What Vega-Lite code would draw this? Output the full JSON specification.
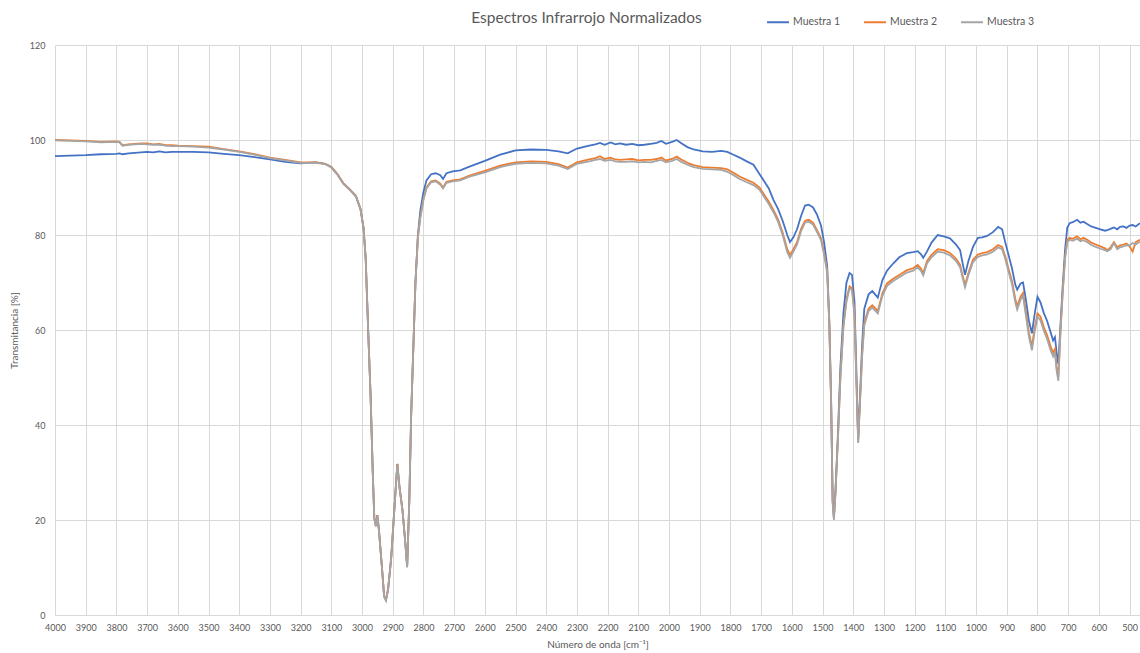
{
  "$schema": "https://vega.github.io/schema/vega-lite/v6.json",
  "width": 1085,
  "height": 570,
  "autosize": {"type": "none"},
  "padding": {"left": 55, "top": 45, "right": 0, "bottom": 38},
  "background": "white",
  "config": {
    "font": "Lato",
    "view": {"stroke": null},
    "axis": {
      "gridColor": "#d9d9d9",
      "gridWidth": 1,
      "domain": false,
      "ticks": false,
      "labelColor": "#595959",
      "titleColor": "#595959",
      "labelFont": "Lato",
      "titleFont": "Lato",
      "labelFontSize": 9,
      "titleFontSize": 10,
      "titleFontWeight": "normal"
    }
  },
  "title": {
    "text": "Espectros Infrarrojo Normalizados",
    "font": "Lato",
    "fontSize": 15.5,
    "fontWeight": "normal",
    "color": "#595959",
    "anchor": "middle",
    "frame": "group",
    "dx": -11,
    "offset": -16
  },
  "data": {
    "values": [
      {"wn": 4000, "Muestra 1": 96.6, "Muestra 2": 100.0, "Muestra 3": 99.9},
      {"wn": 3950, "Muestra 1": 96.7, "Muestra 2": 99.9, "Muestra 3": 99.8},
      {"wn": 3900, "Muestra 1": 96.8, "Muestra 2": 99.8, "Muestra 3": 99.7},
      {"wn": 3850, "Muestra 1": 97.0, "Muestra 2": 99.6, "Muestra 3": 99.5},
      {"wn": 3800, "Muestra 1": 97.1, "Muestra 2": 99.7, "Muestra 3": 99.6},
      {"wn": 3790, "Muestra 1": 97.2, "Muestra 2": 99.6, "Muestra 3": 99.5},
      {"wn": 3780, "Muestra 1": 97.0, "Muestra 2": 98.9, "Muestra 3": 98.8},
      {"wn": 3760, "Muestra 1": 97.2, "Muestra 2": 99.1, "Muestra 3": 99.0},
      {"wn": 3740, "Muestra 1": 97.3, "Muestra 2": 99.2, "Muestra 3": 99.1},
      {"wn": 3720, "Muestra 1": 97.4, "Muestra 2": 99.3, "Muestra 3": 99.2},
      {"wn": 3700, "Muestra 1": 97.5, "Muestra 2": 99.3, "Muestra 3": 99.1},
      {"wn": 3680, "Muestra 1": 97.4, "Muestra 2": 99.1, "Muestra 3": 99.0},
      {"wn": 3660, "Muestra 1": 97.6, "Muestra 2": 99.2, "Muestra 3": 99.0},
      {"wn": 3640, "Muestra 1": 97.4, "Muestra 2": 98.9, "Muestra 3": 98.8},
      {"wn": 3620, "Muestra 1": 97.5, "Muestra 2": 98.9, "Muestra 3": 98.7},
      {"wn": 3600, "Muestra 1": 97.5, "Muestra 2": 98.8, "Muestra 3": 98.7},
      {"wn": 3550, "Muestra 1": 97.5, "Muestra 2": 98.7, "Muestra 3": 98.6},
      {"wn": 3500, "Muestra 1": 97.4, "Muestra 2": 98.6, "Muestra 3": 98.4},
      {"wn": 3450, "Muestra 1": 97.1, "Muestra 2": 98.1, "Muestra 3": 98.0},
      {"wn": 3400, "Muestra 1": 96.8, "Muestra 2": 97.6, "Muestra 3": 97.5},
      {"wn": 3350, "Muestra 1": 96.4, "Muestra 2": 97.0, "Muestra 3": 96.9},
      {"wn": 3300, "Muestra 1": 95.9, "Muestra 2": 96.3, "Muestra 3": 96.2},
      {"wn": 3250, "Muestra 1": 95.4, "Muestra 2": 95.8, "Muestra 3": 95.7},
      {"wn": 3200, "Muestra 1": 95.1, "Muestra 2": 95.3, "Muestra 3": 95.2},
      {"wn": 3180, "Muestra 1": 95.2, "Muestra 2": 95.3, "Muestra 3": 95.2},
      {"wn": 3150, "Muestra 1": 95.3, "Muestra 2": 95.3, "Muestra 3": 95.2},
      {"wn": 3120, "Muestra 1": 95.0, "Muestra 2": 95.0, "Muestra 3": 94.9},
      {"wn": 3100, "Muestra 1": 94.3, "Muestra 2": 94.3, "Muestra 3": 94.2},
      {"wn": 3080, "Muestra 1": 92.8, "Muestra 2": 92.8, "Muestra 3": 92.7},
      {"wn": 3060, "Muestra 1": 90.8, "Muestra 2": 90.8, "Muestra 3": 90.7},
      {"wn": 3040, "Muestra 1": 89.6, "Muestra 2": 89.6, "Muestra 3": 89.5},
      {"wn": 3020, "Muestra 1": 88.2, "Muestra 2": 88.2, "Muestra 3": 88.1},
      {"wn": 3005, "Muestra 1": 85.5, "Muestra 2": 85.5, "Muestra 3": 85.4},
      {"wn": 2995, "Muestra 1": 81.5, "Muestra 2": 81.5, "Muestra 3": 81.4},
      {"wn": 2988, "Muestra 1": 75.0, "Muestra 2": 75.0, "Muestra 3": 74.9},
      {"wn": 2980, "Muestra 1": 60.0, "Muestra 2": 60.0, "Muestra 3": 60.0},
      {"wn": 2972, "Muestra 1": 46.0, "Muestra 2": 46.0, "Muestra 3": 46.0},
      {"wn": 2965, "Muestra 1": 30.0, "Muestra 2": 30.0, "Muestra 3": 30.0},
      {"wn": 2960, "Muestra 1": 20.5, "Muestra 2": 20.5, "Muestra 3": 20.3},
      {"wn": 2955, "Muestra 1": 18.8, "Muestra 2": 18.8, "Muestra 3": 18.6},
      {"wn": 2950, "Muestra 1": 21.0, "Muestra 2": 21.0, "Muestra 3": 20.8},
      {"wn": 2945, "Muestra 1": 18.0, "Muestra 2": 18.0, "Muestra 3": 17.8},
      {"wn": 2935, "Muestra 1": 10.0, "Muestra 2": 10.0, "Muestra 3": 9.8},
      {"wn": 2928, "Muestra 1": 4.0, "Muestra 2": 4.0, "Muestra 3": 3.8},
      {"wn": 2922, "Muestra 1": 3.2, "Muestra 2": 3.2, "Muestra 3": 3.0},
      {"wn": 2915, "Muestra 1": 5.5, "Muestra 2": 5.5, "Muestra 3": 5.3},
      {"wn": 2905, "Muestra 1": 12.0, "Muestra 2": 12.0, "Muestra 3": 11.8},
      {"wn": 2895, "Muestra 1": 22.0, "Muestra 2": 22.0, "Muestra 3": 21.8},
      {"wn": 2885, "Muestra 1": 31.8, "Muestra 2": 31.8, "Muestra 3": 31.6},
      {"wn": 2878, "Muestra 1": 27.0, "Muestra 2": 27.0, "Muestra 3": 26.8},
      {"wn": 2868, "Muestra 1": 22.0, "Muestra 2": 22.0, "Muestra 3": 21.8},
      {"wn": 2860, "Muestra 1": 16.0, "Muestra 2": 16.0, "Muestra 3": 15.8},
      {"wn": 2853, "Muestra 1": 10.2, "Muestra 2": 10.2, "Muestra 3": 10.0},
      {"wn": 2846, "Muestra 1": 24.0, "Muestra 2": 24.0, "Muestra 3": 23.8},
      {"wn": 2840, "Muestra 1": 42.0, "Muestra 2": 42.0, "Muestra 3": 41.8},
      {"wn": 2833, "Muestra 1": 56.0, "Muestra 2": 56.0, "Muestra 3": 55.8},
      {"wn": 2826, "Muestra 1": 70.0, "Muestra 2": 70.0, "Muestra 3": 69.8},
      {"wn": 2818, "Muestra 1": 80.0, "Muestra 2": 79.6, "Muestra 3": 79.4},
      {"wn": 2810, "Muestra 1": 85.2, "Muestra 2": 83.8, "Muestra 3": 83.6},
      {"wn": 2800, "Muestra 1": 89.0, "Muestra 2": 87.6, "Muestra 3": 87.4},
      {"wn": 2790, "Muestra 1": 91.5, "Muestra 2": 90.0, "Muestra 3": 89.8},
      {"wn": 2775, "Muestra 1": 92.8, "Muestra 2": 91.3, "Muestra 3": 91.1},
      {"wn": 2760, "Muestra 1": 93.0, "Muestra 2": 91.5, "Muestra 3": 91.3},
      {"wn": 2745, "Muestra 1": 92.6, "Muestra 2": 90.8, "Muestra 3": 90.6},
      {"wn": 2736, "Muestra 1": 91.8, "Muestra 2": 90.0, "Muestra 3": 89.8},
      {"wn": 2725, "Muestra 1": 93.0, "Muestra 2": 91.2, "Muestra 3": 91.0},
      {"wn": 2705, "Muestra 1": 93.4, "Muestra 2": 91.5, "Muestra 3": 91.3},
      {"wn": 2680, "Muestra 1": 93.6, "Muestra 2": 91.7, "Muestra 3": 91.5},
      {"wn": 2650, "Muestra 1": 94.4, "Muestra 2": 92.5, "Muestra 3": 92.3},
      {"wn": 2600, "Muestra 1": 95.6, "Muestra 2": 93.5, "Muestra 3": 93.2},
      {"wn": 2550, "Muestra 1": 96.9, "Muestra 2": 94.6, "Muestra 3": 94.3},
      {"wn": 2500, "Muestra 1": 97.8, "Muestra 2": 95.3, "Muestra 3": 95.0},
      {"wn": 2450, "Muestra 1": 98.0, "Muestra 2": 95.5, "Muestra 3": 95.2},
      {"wn": 2400, "Muestra 1": 97.9, "Muestra 2": 95.4, "Muestra 3": 95.1},
      {"wn": 2360, "Muestra 1": 97.6, "Muestra 2": 94.9, "Muestra 3": 94.6},
      {"wn": 2330, "Muestra 1": 97.2, "Muestra 2": 94.2, "Muestra 3": 93.9},
      {"wn": 2300, "Muestra 1": 98.2, "Muestra 2": 95.3, "Muestra 3": 95.0},
      {"wn": 2260, "Muestra 1": 98.8, "Muestra 2": 95.9, "Muestra 3": 95.5},
      {"wn": 2240, "Muestra 1": 99.1, "Muestra 2": 96.2, "Muestra 3": 95.8},
      {"wn": 2225, "Muestra 1": 99.4, "Muestra 2": 96.6, "Muestra 3": 96.0},
      {"wn": 2210, "Muestra 1": 99.0, "Muestra 2": 96.0, "Muestra 3": 95.6},
      {"wn": 2190, "Muestra 1": 99.5, "Muestra 2": 96.3, "Muestra 3": 95.8},
      {"wn": 2175, "Muestra 1": 99.1, "Muestra 2": 95.9, "Muestra 3": 95.5},
      {"wn": 2160, "Muestra 1": 99.3, "Muestra 2": 95.8, "Muestra 3": 95.4},
      {"wn": 2140, "Muestra 1": 99.0, "Muestra 2": 95.9, "Muestra 3": 95.4},
      {"wn": 2120, "Muestra 1": 99.2, "Muestra 2": 96.0, "Muestra 3": 95.5},
      {"wn": 2100, "Muestra 1": 98.9, "Muestra 2": 95.7, "Muestra 3": 95.3},
      {"wn": 2080, "Muestra 1": 99.0, "Muestra 2": 95.8, "Muestra 3": 95.4},
      {"wn": 2060, "Muestra 1": 99.2, "Muestra 2": 95.8, "Muestra 3": 95.3},
      {"wn": 2040, "Muestra 1": 99.4, "Muestra 2": 96.0, "Muestra 3": 95.6},
      {"wn": 2025, "Muestra 1": 99.8, "Muestra 2": 96.3, "Muestra 3": 95.8},
      {"wn": 2010, "Muestra 1": 99.2, "Muestra 2": 95.7, "Muestra 3": 95.3},
      {"wn": 1990, "Muestra 1": 99.6, "Muestra 2": 96.0, "Muestra 3": 95.6},
      {"wn": 1975, "Muestra 1": 100.0, "Muestra 2": 96.5, "Muestra 3": 96.0},
      {"wn": 1960, "Muestra 1": 99.3, "Muestra 2": 95.9, "Muestra 3": 95.4},
      {"wn": 1940, "Muestra 1": 98.5, "Muestra 2": 95.2, "Muestra 3": 94.8},
      {"wn": 1920, "Muestra 1": 98.0, "Muestra 2": 94.7, "Muestra 3": 94.3},
      {"wn": 1890, "Muestra 1": 97.6, "Muestra 2": 94.3, "Muestra 3": 93.9},
      {"wn": 1860, "Muestra 1": 97.5, "Muestra 2": 94.2, "Muestra 3": 93.8},
      {"wn": 1830, "Muestra 1": 97.7, "Muestra 2": 94.1, "Muestra 3": 93.7},
      {"wn": 1810, "Muestra 1": 97.5, "Muestra 2": 93.8, "Muestra 3": 93.3},
      {"wn": 1790, "Muestra 1": 96.9, "Muestra 2": 93.1, "Muestra 3": 92.6},
      {"wn": 1770, "Muestra 1": 96.3, "Muestra 2": 92.3, "Muestra 3": 91.8},
      {"wn": 1750, "Muestra 1": 95.6, "Muestra 2": 91.7, "Muestra 3": 91.2},
      {"wn": 1725, "Muestra 1": 94.8, "Muestra 2": 91.0, "Muestra 3": 90.5},
      {"wn": 1705, "Muestra 1": 92.8, "Muestra 2": 90.0, "Muestra 3": 89.5},
      {"wn": 1690, "Muestra 1": 91.3, "Muestra 2": 88.5, "Muestra 3": 88.0},
      {"wn": 1675, "Muestra 1": 89.8, "Muestra 2": 87.0, "Muestra 3": 86.5},
      {"wn": 1660, "Muestra 1": 87.4, "Muestra 2": 85.3, "Muestra 3": 84.8},
      {"wn": 1645, "Muestra 1": 85.5, "Muestra 2": 83.3, "Muestra 3": 82.8},
      {"wn": 1630, "Muestra 1": 83.0, "Muestra 2": 80.5, "Muestra 3": 80.0},
      {"wn": 1615, "Muestra 1": 80.0, "Muestra 2": 77.0, "Muestra 3": 76.4},
      {"wn": 1606, "Muestra 1": 78.5, "Muestra 2": 75.8, "Muestra 3": 75.2},
      {"wn": 1595, "Muestra 1": 79.5, "Muestra 2": 77.0, "Muestra 3": 76.5},
      {"wn": 1583, "Muestra 1": 81.2, "Muestra 2": 78.5, "Muestra 3": 78.0},
      {"wn": 1570, "Muestra 1": 84.0, "Muestra 2": 81.3, "Muestra 3": 80.8},
      {"wn": 1557, "Muestra 1": 86.2, "Muestra 2": 83.0, "Muestra 3": 82.6},
      {"wn": 1545, "Muestra 1": 86.4, "Muestra 2": 83.2, "Muestra 3": 82.8},
      {"wn": 1531, "Muestra 1": 85.8, "Muestra 2": 82.6, "Muestra 3": 82.2},
      {"wn": 1518, "Muestra 1": 84.3, "Muestra 2": 81.0, "Muestra 3": 80.6},
      {"wn": 1505, "Muestra 1": 82.0, "Muestra 2": 79.3, "Muestra 3": 78.9},
      {"wn": 1495, "Muestra 1": 78.5, "Muestra 2": 76.3, "Muestra 3": 75.9},
      {"wn": 1485, "Muestra 1": 73.5, "Muestra 2": 72.5, "Muestra 3": 72.1},
      {"wn": 1478, "Muestra 1": 62.0, "Muestra 2": 61.5, "Muestra 3": 61.2},
      {"wn": 1472, "Muestra 1": 45.0, "Muestra 2": 44.5, "Muestra 3": 44.2},
      {"wn": 1467, "Muestra 1": 24.0, "Muestra 2": 23.8, "Muestra 3": 23.5},
      {"wn": 1463, "Muestra 1": 20.6, "Muestra 2": 20.4, "Muestra 3": 20.0},
      {"wn": 1458, "Muestra 1": 26.0, "Muestra 2": 25.8, "Muestra 3": 25.5},
      {"wn": 1450, "Muestra 1": 38.0, "Muestra 2": 37.0, "Muestra 3": 36.8},
      {"wn": 1442, "Muestra 1": 52.0, "Muestra 2": 50.0, "Muestra 3": 49.6},
      {"wn": 1432, "Muestra 1": 63.5, "Muestra 2": 61.0, "Muestra 3": 60.6},
      {"wn": 1422, "Muestra 1": 70.0, "Muestra 2": 66.5, "Muestra 3": 66.0},
      {"wn": 1412, "Muestra 1": 72.0, "Muestra 2": 69.2, "Muestra 3": 68.8},
      {"wn": 1404, "Muestra 1": 71.6, "Muestra 2": 68.8, "Muestra 3": 68.4},
      {"wn": 1396, "Muestra 1": 66.0, "Muestra 2": 63.5, "Muestra 3": 63.0},
      {"wn": 1390, "Muestra 1": 52.0, "Muestra 2": 50.0, "Muestra 3": 49.6},
      {"wn": 1384, "Muestra 1": 37.0, "Muestra 2": 36.5, "Muestra 3": 36.2},
      {"wn": 1378, "Muestra 1": 46.0, "Muestra 2": 45.0, "Muestra 3": 44.7},
      {"wn": 1371, "Muestra 1": 57.0, "Muestra 2": 55.0, "Muestra 3": 54.6},
      {"wn": 1364, "Muestra 1": 64.5, "Muestra 2": 61.5, "Muestra 3": 61.0},
      {"wn": 1350, "Muestra 1": 67.5, "Muestra 2": 64.5, "Muestra 3": 64.0},
      {"wn": 1338, "Muestra 1": 68.2, "Muestra 2": 65.2, "Muestra 3": 64.7},
      {"wn": 1320, "Muestra 1": 66.8, "Muestra 2": 64.0, "Muestra 3": 63.5},
      {"wn": 1305, "Muestra 1": 70.5, "Muestra 2": 67.7, "Muestra 3": 67.2},
      {"wn": 1290, "Muestra 1": 72.5, "Muestra 2": 69.8, "Muestra 3": 69.3},
      {"wn": 1270, "Muestra 1": 74.0, "Muestra 2": 70.8, "Muestra 3": 70.3},
      {"wn": 1250, "Muestra 1": 75.3, "Muestra 2": 71.6, "Muestra 3": 71.1},
      {"wn": 1225, "Muestra 1": 76.2, "Muestra 2": 72.6, "Muestra 3": 72.1},
      {"wn": 1205, "Muestra 1": 76.4, "Muestra 2": 73.0, "Muestra 3": 72.5},
      {"wn": 1190, "Muestra 1": 76.6, "Muestra 2": 73.7, "Muestra 3": 73.2},
      {"wn": 1180, "Muestra 1": 76.0, "Muestra 2": 73.0, "Muestra 3": 72.5},
      {"wn": 1172, "Muestra 1": 75.2, "Muestra 2": 72.0, "Muestra 3": 71.5},
      {"wn": 1160, "Muestra 1": 76.5, "Muestra 2": 74.5, "Muestra 3": 74.0},
      {"wn": 1145, "Muestra 1": 78.4, "Muestra 2": 75.8, "Muestra 3": 75.3},
      {"wn": 1125, "Muestra 1": 80.0, "Muestra 2": 77.0, "Muestra 3": 76.5},
      {"wn": 1105, "Muestra 1": 79.7, "Muestra 2": 76.8, "Muestra 3": 76.3},
      {"wn": 1085, "Muestra 1": 79.3, "Muestra 2": 76.2, "Muestra 3": 75.7},
      {"wn": 1065, "Muestra 1": 78.0, "Muestra 2": 75.0, "Muestra 3": 74.5},
      {"wn": 1052, "Muestra 1": 76.8, "Muestra 2": 73.7, "Muestra 3": 73.2},
      {"wn": 1042, "Muestra 1": 73.5, "Muestra 2": 71.0, "Muestra 3": 70.5},
      {"wn": 1036, "Muestra 1": 71.6, "Muestra 2": 69.5, "Muestra 3": 69.0},
      {"wn": 1025, "Muestra 1": 74.5, "Muestra 2": 72.0, "Muestra 3": 71.5},
      {"wn": 1010, "Muestra 1": 77.5, "Muestra 2": 74.8, "Muestra 3": 74.3},
      {"wn": 994, "Muestra 1": 79.4, "Muestra 2": 75.9, "Muestra 3": 75.4},
      {"wn": 980, "Muestra 1": 79.5, "Muestra 2": 76.2, "Muestra 3": 75.7},
      {"wn": 964, "Muestra 1": 79.8, "Muestra 2": 76.4, "Muestra 3": 75.9},
      {"wn": 945, "Muestra 1": 80.6, "Muestra 2": 77.0, "Muestra 3": 76.5},
      {"wn": 928, "Muestra 1": 81.7, "Muestra 2": 77.9, "Muestra 3": 77.4},
      {"wn": 915, "Muestra 1": 81.2, "Muestra 2": 77.5, "Muestra 3": 77.0},
      {"wn": 905, "Muestra 1": 78.5, "Muestra 2": 75.5, "Muestra 3": 75.0},
      {"wn": 893, "Muestra 1": 75.5, "Muestra 2": 72.6, "Muestra 3": 72.0},
      {"wn": 883, "Muestra 1": 73.0, "Muestra 2": 70.3, "Muestra 3": 69.7},
      {"wn": 872, "Muestra 1": 69.5, "Muestra 2": 66.5, "Muestra 3": 65.8},
      {"wn": 866, "Muestra 1": 68.5, "Muestra 2": 65.0, "Muestra 3": 64.3},
      {"wn": 855, "Muestra 1": 69.8, "Muestra 2": 67.0, "Muestra 3": 66.4},
      {"wn": 847, "Muestra 1": 70.0, "Muestra 2": 67.8, "Muestra 3": 67.2},
      {"wn": 838, "Muestra 1": 66.5, "Muestra 2": 64.0, "Muestra 3": 63.2},
      {"wn": 828, "Muestra 1": 62.0, "Muestra 2": 59.5, "Muestra 3": 58.7},
      {"wn": 818, "Muestra 1": 59.3, "Muestra 2": 56.5, "Muestra 3": 55.7},
      {"wn": 810, "Muestra 1": 63.0, "Muestra 2": 60.0, "Muestra 3": 59.3},
      {"wn": 800, "Muestra 1": 67.0, "Muestra 2": 63.5, "Muestra 3": 62.8},
      {"wn": 790, "Muestra 1": 65.8, "Muestra 2": 62.8, "Muestra 3": 62.0},
      {"wn": 779, "Muestra 1": 63.5, "Muestra 2": 60.5, "Muestra 3": 59.8},
      {"wn": 769, "Muestra 1": 62.0, "Muestra 2": 59.0, "Muestra 3": 58.2},
      {"wn": 757, "Muestra 1": 59.5, "Muestra 2": 56.5, "Muestra 3": 55.7},
      {"wn": 749, "Muestra 1": 57.8, "Muestra 2": 55.2, "Muestra 3": 54.4},
      {"wn": 743, "Muestra 1": 58.5, "Muestra 2": 56.0, "Muestra 3": 55.2},
      {"wn": 738, "Muestra 1": 55.5, "Muestra 2": 52.5, "Muestra 3": 51.6},
      {"wn": 732, "Muestra 1": 52.8, "Muestra 2": 50.1, "Muestra 3": 49.3},
      {"wn": 725, "Muestra 1": 61.0, "Muestra 2": 60.0, "Muestra 3": 59.5},
      {"wn": 718, "Muestra 1": 69.0, "Muestra 2": 68.0, "Muestra 3": 67.5},
      {"wn": 710, "Muestra 1": 77.0, "Muestra 2": 75.5, "Muestra 3": 75.0},
      {"wn": 703, "Muestra 1": 81.5, "Muestra 2": 79.0, "Muestra 3": 78.5},
      {"wn": 695, "Muestra 1": 82.5, "Muestra 2": 79.4, "Muestra 3": 79.0},
      {"wn": 685, "Muestra 1": 82.7, "Muestra 2": 79.2, "Muestra 3": 78.8},
      {"wn": 671, "Muestra 1": 83.2, "Muestra 2": 79.7, "Muestra 3": 79.2},
      {"wn": 660, "Muestra 1": 82.6, "Muestra 2": 79.1, "Muestra 3": 78.7},
      {"wn": 650, "Muestra 1": 82.8, "Muestra 2": 79.4, "Muestra 3": 78.9},
      {"wn": 638, "Muestra 1": 82.3, "Muestra 2": 79.0, "Muestra 3": 78.5},
      {"wn": 625, "Muestra 1": 81.8, "Muestra 2": 78.4, "Muestra 3": 77.9},
      {"wn": 610, "Muestra 1": 81.5, "Muestra 2": 78.0, "Muestra 3": 77.5},
      {"wn": 595, "Muestra 1": 81.2, "Muestra 2": 77.6, "Muestra 3": 77.1},
      {"wn": 580, "Muestra 1": 80.9, "Muestra 2": 77.2, "Muestra 3": 76.8},
      {"wn": 573, "Muestra 1": 81.0, "Muestra 2": 76.8, "Muestra 3": 76.6},
      {"wn": 562, "Muestra 1": 81.3, "Muestra 2": 77.4, "Muestra 3": 77.0},
      {"wn": 551, "Muestra 1": 81.6, "Muestra 2": 78.5, "Muestra 3": 78.3},
      {"wn": 540, "Muestra 1": 81.2, "Muestra 2": 77.4, "Muestra 3": 77.0},
      {"wn": 531, "Muestra 1": 81.7, "Muestra 2": 77.8, "Muestra 3": 77.4},
      {"wn": 520, "Muestra 1": 81.8, "Muestra 2": 78.0, "Muestra 3": 77.6},
      {"wn": 510, "Muestra 1": 81.5, "Muestra 2": 78.2, "Muestra 3": 77.8},
      {"wn": 500, "Muestra 1": 82.0, "Muestra 2": 77.6, "Muestra 3": 77.8},
      {"wn": 490, "Muestra 1": 82.1, "Muestra 2": 76.5, "Muestra 3": 78.3},
      {"wn": 480, "Muestra 1": 81.8, "Muestra 2": 78.5, "Muestra 3": 78.0},
      {"wn": 466, "Muestra 1": 82.5, "Muestra 2": 79.0, "Muestra 3": 78.6}
    ]
  },
  "transform": [
    {"fold": ["Muestra 1", "Muestra 2", "Muestra 3"], "as": ["serie", "t"]}
  ],
  "mark": {"type": "line", "strokeWidth": 1.8, "interpolate": "linear"},
  "encoding": {
    "x": {
      "field": "wn",
      "type": "quantitative",
      "scale": {"domain": [466, 4000], "reverse": true, "nice": false, "zero": false},
      "axis": {
        "title": "Número de onda [cm⁻¹]",
        "format": "d",
        "values": [4000, 3900, 3800, 3700, 3600, 3500, 3400, 3300, 3200, 3100, 3000, 2900, 2800, 2700, 2600, 2500, 2400, 2300, 2200, 2100, 2000, 1900, 1800, 1700, 1600, 1500, 1400, 1300, 1200, 1100, 1000, 900, 800, 700, 600, 500],
        "labelOverlap": false,
        "labelBound": false,
        "labelFlush": false,
        "labelPadding": 8,
        "titlePadding": 7
      }
    },
    "y": {
      "field": "t",
      "type": "quantitative",
      "scale": {"domain": [0, 120], "nice": false},
      "axis": {
        "title": "Transmitancia [%]",
        "values": [0, 20, 40, 60, 80, 100, 120],
        "labelPadding": 10,
        "titlePadding": 10
      }
    },
    "color": {
      "field": "serie",
      "type": "nominal",
      "scale": {
        "domain": ["Muestra 1", "Muestra 2", "Muestra 3"],
        "range": ["#4472c4", "#ed7d31", "#a5a5a5"]
      },
      "legend": {
        "title": null,
        "orient": "none",
        "direction": "horizontal",
        "legendX": 711,
        "legendY": -35,
        "symbolType": "stroke",
        "symbolStrokeWidth": 2,
        "symbolSize": 480,
        "labelFontSize": 10.5,
        "labelColor": "#595959",
        "labelFont": "Lato",
        "labelOffset": 3,
        "columnPadding": 19
      }
    }
  }
}
